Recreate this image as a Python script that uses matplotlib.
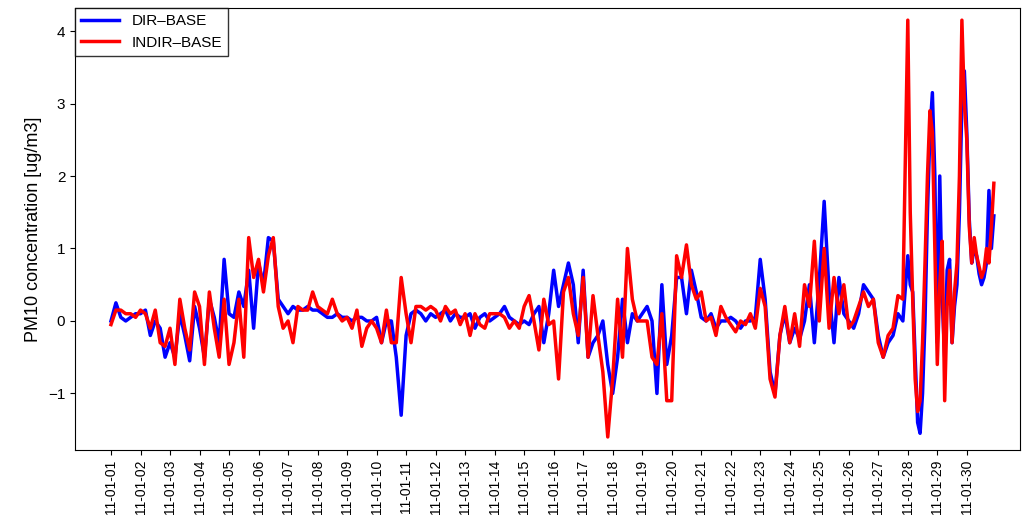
import numpy as np
import matplotlib
matplotlib.use("Agg")
import matplotlib.pyplot as plt

plt.rcParams['font.family'] = ['Liberation Sans', 'DejaVu Sans']

# 6 samples per day for days 0..26, then 12 per day for days 27..29
dir_base = [
    0, 0.25, 0.05, 0, 0.05, 0.1,
    0.1, 0.15, -0.2, 0, -0.1, -0.5,
    -0.3, -0.5, 0.1, -0.2, -0.55, 0.2,
    -0.1, -0.5, 0.3, 0.05, -0.3, 0.85,
    0.1, 0.05, 0.4, 0.2, 0.7, -0.1,
    0.8, 0.5, 1.15, 1.1, 0.3, 0.2,
    0.1, 0.2, 0.15, 0.15, 0.2, 0.15,
    0.15, 0.1, 0.05, 0.05, 0.1, 0.05,
    0.05, 0.0, 0.05, 0.05, 0.0, 0.0,
    0.05, -0.3, 0.0, 0.0, -0.5, -1.3,
    -0.2, 0.1, 0.15, 0.1, 0.0, 0.1,
    0.05, 0.1, 0.15, 0.0, 0.1, 0.05,
    0.05, 0.1, -0.1, 0.05, 0.1, 0.0,
    0.05, 0.1, 0.2, 0.05, 0.0, -0.05,
    0.0, -0.05, 0.1, 0.2, -0.3, 0.1,
    0.7, 0.2, 0.5, 0.8, 0.5, -0.3,
    0.7, -0.5, -0.3, -0.2, 0.0, -0.6,
    -1.0, -0.5, 0.3, -0.3, 0.1, 0.0,
    0.1, 0.2, 0.0, -1.0, 0.5, -0.6,
    -0.2, 0.6, 0.6, 0.1, 0.7, 0.4,
    0.05, 0.0, 0.1, -0.1, 0.0, 0.0,
    0.05, 0.0, -0.1, 0.0, 0.0, 0.05,
    0.85, 0.3, -0.7, -1.0, -0.2, 0.1,
    -0.3, -0.1, -0.25, 0.0, 0.5, -0.3,
    0.55, 1.65, 0.4, -0.3, 0.6, 0.1,
    0.0, -0.1, 0.1, 0.5, 0.4, 0.3,
    -0.2, -0.5, -0.3, -0.2, 0.1, 0.0,
    0.9, 0.5, 0.4, -0.5, -1.4, -1.55, -1.0, 0.0, 1.5, 2.6, 3.15, 2.0,
    -0.3, 2.0, 0.3, -0.5, 0.7, 0.85, -0.3, 0.2, 0.5, 1.5, 3.0, 3.45,
    2.6, 1.4, 0.8, 1.0, 0.9, 0.65, 0.5, 0.6, 0.8, 1.8, 1.0, 1.45,
]
indir_base = [
    -0.05, 0.15, 0.15, 0.1, 0.1, 0.05,
    0.15, 0.1, -0.1, 0.15, -0.3, -0.35,
    -0.1, -0.6, 0.3, -0.1, -0.4, 0.4,
    0.2, -0.6, 0.4, -0.1, -0.5, 0.3,
    -0.6, -0.3, 0.3, -0.5, 1.15, 0.6,
    0.85, 0.4, 0.9, 1.15, 0.2, -0.1,
    0, -0.3, 0.2, 0.15, 0.15, 0.4,
    0.2, 0.15, 0.1, 0.3, 0.1, 0,
    0.05, -0.1, 0.15, -0.35, -0.1, 0.0,
    -0.1, -0.3, 0.15, -0.3, -0.3, 0.6,
    0.1, -0.3, 0.2, 0.2, 0.15, 0.2,
    0.15, 0.0, 0.2, 0.1, 0.15, -0.05,
    0.1, -0.2, 0.1, -0.05, -0.1, 0.1,
    0.1, 0.1, 0.05, -0.1, 0.0, -0.1,
    0.2, 0.35, 0.0, -0.4, 0.3, -0.05,
    0.0, -0.8, 0.4, 0.6, 0.1, -0.2,
    0.6, -0.5, 0.35, -0.2, -0.7, -1.6,
    -0.8, 0.3, -0.5, 1.0, 0.3, 0.0,
    0.0, 0.0, -0.5, -0.6, 0.1, -1.1,
    -1.1, 0.9, 0.6, 1.05, 0.5, 0.3,
    0.4, 0.0, 0.05, -0.2, 0.2, 0.05,
    -0.05, -0.15, 0.0, -0.05, 0.1, -0.1,
    0.45, 0.2, -0.8, -1.05, -0.2, 0.2,
    -0.3, 0.1, -0.35, 0.5, 0.2, 1.1,
    0.0, 1.0, -0.1, 0.6, 0.1, 0.5,
    -0.1, 0.0, 0.2, 0.4, 0.2, 0.3,
    -0.3, -0.5, -0.2, -0.1, 0.35, 0.3,
    4.15, 1.5, 0.3, -0.8, -1.25, -1.1, -0.3, 0.8, 2.0, 2.9, 2.6, 1.0,
    -0.6, 0.5, 1.1, -1.1, 0.2, 0.7, -0.3, 0.4, 0.8, 2.0, 4.15, 3.0,
    2.5, 1.3, 0.8, 1.15, 0.9, 0.75, 0.6, 0.7, 1.0, 0.8, 1.3, 1.9,
]
day_labels = ["11-01-%02d" % d for d in range(1, 31)]

t = np.concatenate([np.arange(0, 27, 1 / 6), np.arange(27, 30, 1 / 12)])

fig = plt.figure(figsize=(10.23, 5.23), dpi=100)
ax = fig.add_axes([0.0733, 0.1396, 0.9237, 0.8454])
ax.plot(t, dir_base, color="blue", lw=2.5, label="DIR\u2013BASE")
ax.plot(t, indir_base, color="red", lw=2.5, label="INDIR\u2013BASE")
ax.set_xlim(-1.22, 30.8)
ax.set_ylim(-1.78, 4.32)
ax.set_xticks(range(30))
ax.set_xticklabels(day_labels, rotation=90, fontsize=10)
ax.set_yticks(range(-1, 5))
ax.set_yticklabels(["\u22121", "0", "1", "2", "3", "4"], fontsize=11)
ax.set_ylabel("PM10 concentration [ug/m3]", fontsize=13)
ax.legend(loc="upper left", fontsize=11, frameon=True, fancybox=False,
          edgecolor="black", borderaxespad=0, handlelength=2.5)
plt.savefig("out.png", dpi=100)
